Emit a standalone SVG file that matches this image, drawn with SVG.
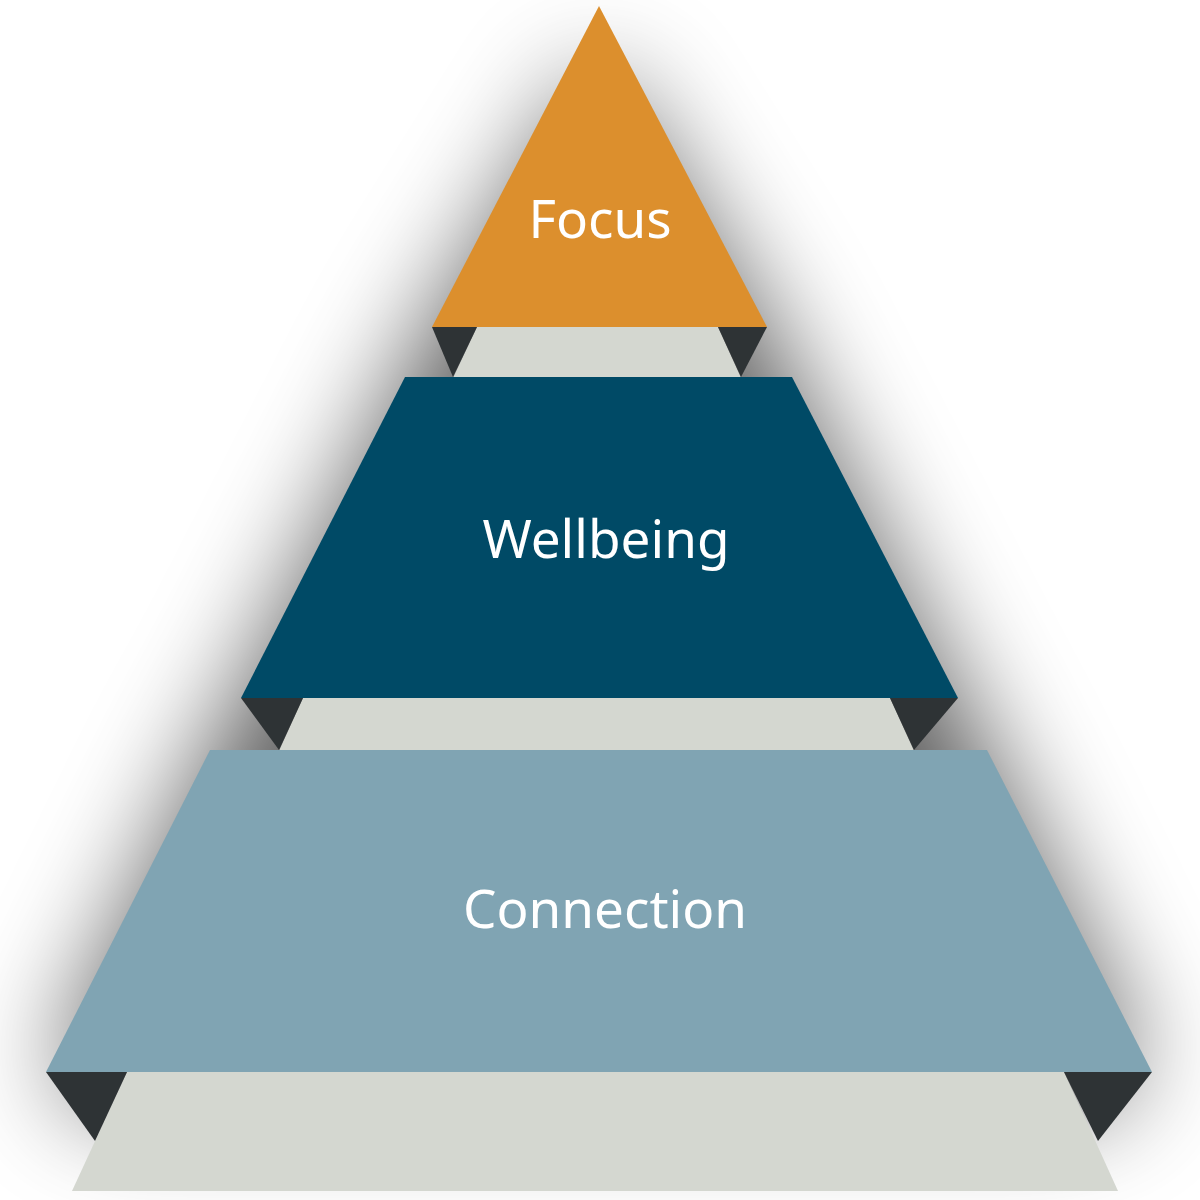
<svg xmlns="http://www.w3.org/2000/svg" width="1200" height="1200" viewBox="0 0 1200 1200">
  <defs>
    <filter id="shadow" x="-30%" y="-30%" width="160%" height="160%">
      <feGaussianBlur stdDeviation="55"/>
    </filter>
    <style>
      .band { fill: #D4D7D0; }
      .fold { fill: #2E3335; }
      .label { font-family: "Noto Sans", "Open Sans", sans-serif; font-size: 53px; fill: #FFFFFF; text-anchor: middle; }
    </style>
  </defs>
  <rect x="0" y="0" width="1200" height="1200" fill="#FFFFFF"/>
  <g id="shadow-layer" filter="url(#shadow)" opacity="0.62">
    <polygon points="599,60 767,327 792,377 958,698 987,750 1140,1060 1100,1110 90,1110 58,1060 210,750 241,698 405,377 432,327" fill="#000000"/>
  </g>
  <g id="bands">
    <polygon class="band" points="477,327 718,327 742,380 452,380"/>
    <polygon class="band" points="303,698 890,698 915,753 278,753"/>
    <polygon class="band" points="127,1072 1064,1072 1118,1191 72,1191"/>
    <polygon class="fold" points="432,327 477,327 453,377"/>
    <polygon class="fold" points="718,327 767,327 741,377"/>
    <polygon class="fold" points="241,698 303,698 279,750"/>
    <polygon class="fold" points="890,698 958,698 914,750"/>
    <polygon class="fold" points="46,1072 127,1072 95,1141"/>
    <polygon class="fold" points="1064,1072 1152,1072 1098,1141"/>
  </g>
  <g id="focus">
    <polygon points="599,6 767,327 432,327" fill="#DC8F2D"/>
    <text class="label" x="600" y="238">Focus</text>
  </g>
  <g id="wellbeing">
    <polygon points="405,377 792,377 958,698 241,698" fill="#004A66"/>
    <text class="label" x="606" y="558">Wellbeing</text>
  </g>
  <g id="connection">
    <polygon points="210,750 987,750 1152,1072 46,1072" fill="#80A4B3"/>
    <text class="label" x="605" y="928">Connection</text>
  </g>
</svg>
